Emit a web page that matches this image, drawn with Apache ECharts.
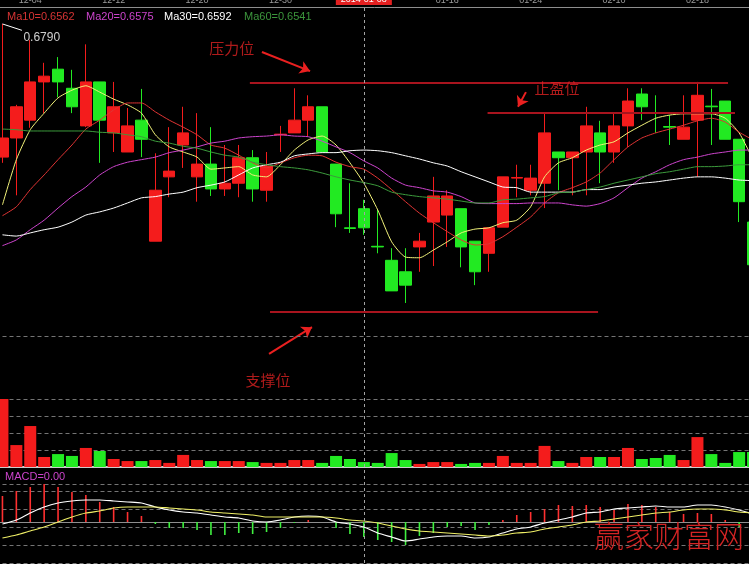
<!DOCTYPE html>
<html>
<head>
<meta charset="utf-8">
<script src="https://cdn.jsdelivr.net/npm/echarts@6/dist/echarts.min.js"></script>
<style>
  html, body { margin: 0; padding: 0; background: #000; }
  #main { width: 749px; height: 564px; }
</style>
</head>
<body>
<div id="main"></div>
<script>
// ---- trading days ----
const dates = ['2013-12-02','2013-12-03','2013-12-04','2013-12-05','2013-12-06','2013-12-09','2013-12-10','2013-12-11','2013-12-12','2013-12-13',
  '2013-12-16','2013-12-17','2013-12-18','2013-12-19','2013-12-20','2013-12-23','2013-12-24','2013-12-25','2013-12-26','2013-12-27',
  '2013-12-30','2013-12-31','2014-01-02','2014-01-03','2014-01-06','2014-01-07','2014-01-08','2014-01-09','2014-01-10','2014-01-13',
  '2014-01-14','2014-01-15','2014-01-16','2014-01-17','2014-01-20','2014-01-21','2014-01-22','2014-01-23','2014-01-24','2014-01-27',
  '2014-01-28','2014-01-29','2014-01-30','2014-02-07','2014-02-10','2014-02-11','2014-02-12','2014-02-13','2014-02-14','2014-02-17',
  '2014-02-18','2014-02-19','2014-02-20','2014-02-21','2014-02-24'];

// ---- daily prices ----
const opens = [0.6581,0.6611,0.6639,0.6699,0.6719,0.6689,0.6630,0.6699,0.6619,0.6589,
  0.6639,0.6449,0.6550,0.6600,0.6550,0.6570,0.6531,0.6540,0.6580,0.6529,
  0.6616,0.6619,0.6639,0.6660,0.6570,0.6470,0.6500,0.6441,0.6419,0.6401,
  0.6440,0.6479,0.6490,0.6500,0.6449,0.6430,0.6471,0.6548,0.6529,0.6540,
  0.6589,0.6580,0.6589,0.6619,0.6589,0.6630,0.6680,0.6651,0.6629,0.6609,
  0.6639,0.6661,0.6669,0.6609,0.6479];
const closes = [0.6611,0.6660,0.6699,0.6708,0.6699,0.6660,0.6699,0.6639,0.6660,0.6630,
  0.6609,0.6529,0.6559,0.6619,0.6570,0.6531,0.6540,0.6580,0.6531,0.6567,
  0.6617,0.6639,0.6660,0.6589,0.6492,0.6469,0.6470,0.6440,0.6371,0.6380,
  0.6449,0.6520,0.6520,0.6440,0.6401,0.6470,0.6550,0.6549,0.6548,0.6619,
  0.6580,0.6589,0.6630,0.6589,0.6630,0.6669,0.6660,0.6650,0.6628,0.6628,
  0.6678,0.6660,0.6609,0.6511,0.6412];
const lows = [0.6572,0.6521,0.6627,0.6650,0.6675,0.6650,0.6628,0.6572,0.6589,0.6589,
  0.6581,0.6449,0.6518,0.6564,0.6511,0.6520,0.6520,0.6518,0.6511,0.6511,
  0.6589,0.6619,0.6613,0.6589,0.6471,0.6462,0.6459,0.6430,0.6371,0.6352,
  0.6401,0.6410,0.6440,0.6408,0.6380,0.6401,0.6471,0.6518,0.6521,0.6501,
  0.6529,0.6521,0.6521,0.6540,0.6572,0.6597,0.6639,0.6619,0.6600,0.6609,
  0.6550,0.6600,0.6609,0.6479,0.6404];
const highs = [0.6790,0.6663,0.6765,0.6729,0.6738,0.6718,0.6758,0.6699,0.6699,0.6658,
  0.6688,0.6587,0.6628,0.6660,0.6650,0.6628,0.6600,0.6600,0.6592,0.6589,
  0.6630,0.6689,0.6678,0.6660,0.6570,0.6540,0.6514,0.6498,0.6438,0.6438,
  0.6462,0.6550,0.6529,0.6500,0.6449,0.6470,0.6550,0.6569,0.6569,0.6650,
  0.6589,0.6589,0.6660,0.6638,0.6649,0.6689,0.6689,0.6678,0.6647,0.6678,
  0.6699,0.6688,0.6669,0.6609,0.6479];

// ---- moving averages ----
const ma5 = [0.6506,0.6577,0.6624,0.6650,0.6674,0.6686,0.6693,0.6683,0.6672,0.6663,
  0.6650,0.6616,0.6597,0.6589,0.6581,0.6562,0.6564,0.6566,0.6553,0.6550,
  0.6569,0.6592,0.6608,0.6614,0.6600,0.6572,0.6540,0.6498,0.6448,0.6424,
  0.6423,0.6435,0.6448,0.6462,0.6468,0.6470,0.6478,0.6482,0.6503,0.6550,
  0.6572,0.6580,0.6592,0.6600,0.6605,0.6619,0.6631,0.6642,0.6647,0.6649,
  0.6649,0.6649,0.6642,0.6619,0.6577];
const ma10 = [0.6489,0.6503,0.6530,0.6553,0.6577,0.6600,0.6625,0.6639,0.6655,0.6666,
  0.6666,0.6652,0.6639,0.6628,0.6616,0.6600,0.6595,0.6584,0.6572,0.6564,
  0.6572,0.6580,0.6584,0.6583,0.6573,0.6566,0.6562,0.6548,0.6530,0.6511,
  0.6493,0.6478,0.6464,0.6451,0.6443,0.6445,0.6456,0.6471,0.6487,0.6509,
  0.6525,0.6533,0.6542,0.6556,0.6577,0.6597,0.6611,0.6619,0.6625,0.6631,
  0.6638,0.6642,0.6636,0.6620,0.6608];
const ma20 = [0.6442,0.6451,0.6467,0.6482,0.6501,0.6519,0.6534,0.6553,0.6566,0.6573,
  0.6577,0.6581,0.6588,0.6592,0.6597,0.6603,0.6606,0.6611,0.6613,0.6614,
  0.6616,0.6614,0.6613,0.6606,0.6597,0.6588,0.6575,0.6564,0.6548,0.6537,
  0.6533,0.6528,0.6526,0.6519,0.6509,0.6508,0.6508,0.6508,0.6509,0.6509,
  0.6509,0.6506,0.6504,0.6508,0.6517,0.6533,0.6548,0.6558,0.6569,0.6577,
  0.6581,0.6586,0.6589,0.6592,0.6592];
const ma30 = [0.6459,0.6457,0.6462,0.6467,0.6471,0.6479,0.6490,0.6495,0.6501,0.6509,
  0.6517,0.6519,0.6523,0.6526,0.6533,0.6537,0.6542,0.6553,0.6564,0.6569,
  0.6573,0.6583,0.6586,0.6588,0.6588,0.6591,0.6592,0.6591,0.6588,0.6583,
  0.6578,0.6572,0.6567,0.6558,0.6550,0.6542,0.6534,0.6533,0.6526,0.6526,
  0.6526,0.6526,0.6530,0.6530,0.6534,0.6537,0.6540,0.6542,0.6545,0.6548,
  0.6550,0.6550,0.6548,0.6545,0.6544];
const ma60 = [0.6625,0.6624,0.6622,0.6622,0.6622,0.6622,0.6622,0.6620,0.6619,0.6616,
  0.6613,0.6606,0.6603,0.6598,0.6595,0.6589,0.6584,0.6581,0.6573,0.6569,
  0.6566,0.6564,0.6561,0.6556,0.6550,0.6545,0.6541,0.6536,0.6526,0.6522,
  0.6519,0.6517,0.6515,0.6512,0.6509,0.6509,0.6514,0.6515,0.6517,0.6519,
  0.6525,0.6526,0.6530,0.6534,0.6540,0.6545,0.6550,0.6555,0.6558,0.6562,
  0.6566,0.6566,0.6567,0.6569,0.6569];

// ---- volume ----
const volumes = [40.0,12.9,24.1,5.9,7.6,6.5,11.2,9.4,4.7,3.5,
  3.5,4.1,2.4,7.1,4.1,3.5,3.5,3.5,2.9,2.4,
  2.4,4.1,4.1,2.4,6.5,4.7,2.9,2.4,8.2,4.1,
  1.8,2.9,2.9,1.8,2.4,2.4,6.5,2.4,2.4,12.4,
  3.5,2.4,5.9,5.9,5.9,11.2,4.7,5.3,7.1,4.1,
  17.6,7.6,2.4,8.8,8.8];

// ---- MACD ----
const dif = [-0.0002,0.0002,0.0009,0.0015,0.0019,0.0021,0.0022,0.0022,0.0021,0.0020,
  0.0019,0.0015,0.0012,0.0010,0.0009,0.0007,0.0005,0.0004,0.0001,0.0000,
  0.0002,0.0005,0.0006,0.0005,0.0000,-0.0002,-0.0005,-0.0011,-0.0015,-0.0019,
  -0.0017,-0.0015,-0.0014,-0.0014,-0.0016,-0.0015,-0.0011,-0.0007,-0.0005,-0.0001,
  0.0002,0.0005,0.0009,0.0010,0.0013,0.0014,0.0015,0.0016,0.0015,0.0015,
  0.0017,0.0017,0.0015,0.0012,0.0008];
const dea = [-0.0016,-0.0013,-0.0009,-0.0005,0.0000,0.0005,0.0009,0.0011,0.0014,0.0015,
  0.0015,0.0015,0.0014,0.0013,0.0012,0.0010,0.0009,0.0008,0.0007,0.0005,
  0.0005,0.0005,0.0005,0.0005,0.0004,0.0002,0.0001,-0.0001,-0.0004,-0.0007,
  -0.0009,-0.0010,-0.0011,-0.0012,-0.0013,-0.0014,-0.0013,-0.0011,-0.0010,-0.0007,
  -0.0005,-0.0003,0.0000,0.0001,0.0003,0.0005,0.0007,0.0009,0.0010,0.0012,
  0.0013,0.0013,0.0012,0.0010,0.0009];
const macdBars = [0.0026,0.0031,0.0035,0.0038,0.0035,0.0030,0.0027,0.0020,0.0015,0.0010,
  0.0006,-0.0002,-0.0006,-0.0006,-0.0008,-0.0013,-0.0013,-0.0011,-0.0012,-0.0010,
  -0.0006,-0.0001,0.0002,0.0000,-0.0006,-0.0012,-0.0015,-0.0018,-0.0020,-0.0023,
  -0.0014,-0.0011,-0.0005,-0.0004,-0.0008,-0.0003,0.0002,0.0007,0.0010,0.0013,
  0.0017,0.0016,0.0017,0.0015,0.0012,0.0018,0.0017,0.0015,0.0010,0.0008,
  0.0009,0.0008,0.0002,-0.0005,-0.0002];

// ---- annotation levels (x in trading-day index units, y in price) ----
const resistanceLevel = { price: 0.6697, from: 17.8, to: 52.2 };
const takeProfitLevel = { price: 0.6650, from: 34.9, to: 52.7 };
const supportLevel = { price: 0.6339, from: 19.25, to: 42.85 };
const arrowPaths = [
  [[18.67, 0.6746], [22.13, 0.6716]],
  [[37.66, 0.6683], [37.09, 0.6660]],
  [[19.18, 0.6272], [22.27, 0.6314]]
];
const notes = [
  { name: '压力位', value: [16.5, 0.6752] },
  { name: '止盈位', value: [39.9, 0.6689] },
  { name: '支撑位', value: [19.1, 0.6231] }
];
const cursorIndex = 26;

// ---- colours ----
const UP = '#f41c1c', DOWN = '#22ea22';
const C_MA5 = '#f2f27a', C_MA10 = '#e03434', C_MA20 = '#cc44cc', C_MA30 = '#ffffff', C_MA60 = '#3c9a3c';
const NUM_FONT = '"Liberation Sans", Arial, sans-serif';
const CJK_FONT = '"Noto Sans CJK SC", sans-serif';

const candleData = dates.map((d, i) => [opens[i], closes[i], lows[i], highs[i]]);
const volumeData = volumes.map((v, i) => ({
  value: v, itemStyle: { color: closes[i] > opens[i] ? UP : DOWN }
}));
const macdData = macdBars.map(v => ({ value: v, itemStyle: { color: v >= 0 ? '#ff3030' : '#40f040' } }));

// highest high of the view, marked with a short pointer
let maxIdx = 0;
highs.forEach((h, i) => { if (h > highs[maxIdx]) maxIdx = i; });
const maxHigh = highs[maxIdx];
const pointerEnd = [maxIdx + 1.4, maxHigh - 0.0010];

const gridBase = { left: -4.5, width: 764.5, containLabel: false, outerBoundsMode: 'none' };
const hiddenAxisParts = { axisLine: { show: false }, axisTick: { show: false }, axisLabel: { show: false } };
const dashed = { lineStyle: { color: '#747474', type: [4, 3], width: 1 } };

const chart = echarts.init(document.getElementById('main'), null, { renderer: 'canvas' });

chart.setOption({
  backgroundColor: '#000',
  animation: false,
  grid: [
    Object.assign({ top: 7, height: 389 }, gridBase),
    Object.assign({ top: 399, height: 68 }, gridBase),
    Object.assign({ top: 484, height: 79 }, gridBase)
  ],
  xAxis: [
    {
      type: 'category', gridIndex: 0, data: dates, position: 'top', boundaryGap: true,
      axisLine: { lineStyle: { color: '#8e8e8e', width: 1 } },
      axisTick: { show: false },
      splitLine: { show: false },
      axisLabel: {
        margin: 2, fontSize: 9, color: '#9c9c9c', fontFamily: NUM_FONT,
        interval: (index) => (index - 2) % 6 === 0,
        formatter: (value, index) => index === cursorIndex ? '{hl|' + value + '}' : value.slice(5),
        rich: { hl: { backgroundColor: '#e42020', color: '#fff', fontSize: 9, fontFamily: NUM_FONT, padding: [2, 5, 1, 5] } }
      }
    },
    { type: 'value', gridIndex: 0, min: -0.5, max: dates.length - 0.5, show: false },
    {
      type: 'category', gridIndex: 1, data: dates, boundaryGap: true,
      axisLine: { lineStyle: { color: '#cccccc', width: 2 } },
      axisTick: { show: false }, axisLabel: { show: false }, splitLine: { show: false }
    },
    {
      type: 'category', gridIndex: 2, data: dates, boundaryGap: true, position: 'top',
      axisLine: { lineStyle: { color: '#8e8e8e', width: 1 } },
      axisTick: { show: false }, axisLabel: { show: false }, splitLine: { show: false }
    }
  ],
  yAxis: [
    { type: 'value', gridIndex: 0, min: 0.6206, max: 0.68166, splitLine: { show: false }, ...hiddenAxisParts },
    { type: 'value', gridIndex: 1, min: 0, max: 40, interval: 10, splitLine: dashed, ...hiddenAxisParts },
    { type: 'value', gridIndex: 2, min: -0.0041, max: 0.0038, interval: 0.0018, splitLine: dashed, ...hiddenAxisParts }
  ],
  series: [
    {
      name: 'K', type: 'candlestick', xAxisIndex: 0, yAxisIndex: 0, z: 2,
      data: candleData, barWidth: 12,
      itemStyle: { color: UP, color0: DOWN, borderColor: UP, borderColor0: DOWN, borderWidth: 1 },
      markLine: {
        silent: true, symbol: ['none', 'none'], label: { show: false },
        lineStyle: { color: '#747474', type: [4, 3], width: 1 },
        data: [{ yAxis: 0.6303 }]
      }
    },
    { name: 'MA5', type: 'line', data: ma5, showSymbol: false, smooth: 0.2, z: 3, lineStyle: { color: C_MA5, width: 1 } },
    { name: 'MA10', type: 'line', data: ma10, showSymbol: false, smooth: 0.2, z: 3, lineStyle: { color: C_MA10, width: 1 } },
    { name: 'MA20', type: 'line', data: ma20, showSymbol: false, smooth: 0.2, z: 3, lineStyle: { color: C_MA20, width: 1 } },
    { name: 'MA30', type: 'line', data: ma30, showSymbol: false, smooth: 0.2, z: 3, lineStyle: { color: C_MA30, width: 1 } },
    { name: 'MA60', type: 'line', data: ma60, showSymbol: false, smooth: 0.2, z: 3, lineStyle: { color: C_MA60, width: 1 } },
    {
      name: 'levels', type: 'lines', coordinateSystem: 'cartesian2d', xAxisIndex: 1, yAxisIndex: 0, z: 4,
      symbol: ['none', 'none'], silent: true,
      lineStyle: { color: '#a8141e', width: 2, opacity: 1 },
      data: [resistanceLevel, takeProfitLevel, supportLevel].map(l => ({ coords: [[l.from, l.price], [l.to, l.price]] }))
    },
    {
      name: 'arrows', type: 'lines', coordinateSystem: 'cartesian2d', xAxisIndex: 1, yAxisIndex: 0, z: 4,
      symbol: ['none', 'arrow'], symbolSize: 10, silent: true,
      lineStyle: { color: '#ea2020', width: 2, opacity: 1 },
      data: arrowPaths.map(p => ({ coords: p }))
    },
    {
      name: 'pointer', type: 'lines', coordinateSystem: 'cartesian2d', xAxisIndex: 1, yAxisIndex: 0, z: 4,
      symbol: ['none', 'none'], silent: true,
      lineStyle: { color: '#ffffff', width: 1, opacity: 1 },
      data: [{ coords: [[maxIdx, maxHigh], pointerEnd] }]
    },
    {
      name: 'notes', type: 'scatter', xAxisIndex: 1, yAxisIndex: 0, z: 5, silent: true,
      symbolSize: 1, itemStyle: { color: 'rgba(0,0,0,0)' },
      label: { show: true, position: 'inside', formatter: '{b}', color: '#dc2222', fontSize: 15, fontFamily: CJK_FONT },
      data: notes
    },
    {
      name: 'maxLabel', type: 'scatter', xAxisIndex: 1, yAxisIndex: 0, z: 5, silent: true,
      symbolSize: 1, itemStyle: { color: 'rgba(0,0,0,0)' },
      label: {
        show: true, position: 'right', distance: 1, offset: [0, 7],
        formatter: () => maxHigh.toFixed(4), color: '#ffffff', fontSize: 12, fontFamily: NUM_FONT
      },
      data: [pointerEnd]
    },
    { name: 'VOL', type: 'bar', xAxisIndex: 2, yAxisIndex: 1, data: volumeData, barWidth: 12 },
    { name: 'MACD', type: 'bar', xAxisIndex: 3, yAxisIndex: 2, data: macdData, barWidth: 1.6, z: 2 },
    { name: 'DIF', type: 'line', xAxisIndex: 3, yAxisIndex: 2, data: dif, showSymbol: false, smooth: 0.2, z: 3, lineStyle: { color: '#ffffff', width: 1.2 } },
    { name: 'DEA', type: 'line', xAxisIndex: 3, yAxisIndex: 2, data: dea, showSymbol: false, smooth: 0.2, z: 3, lineStyle: { color: '#eeee66', width: 1.2 } }
  ]
});

// readouts for the highlighted day, cursor line and site mark
const cursorX = chart.convertToPixel({ xAxisIndex: 0 }, dates[cursorIndex]);
const legendItems = [
  { label: 'Ma10', arr: ma10, color: '#d63434', x: 7 },
  { label: 'Ma20', arr: ma20, color: C_MA20, x: 86 },
  { label: 'Ma30', arr: ma30, color: C_MA30, x: 164 },
  { label: 'Ma60', arr: ma60, color: '#3c963c', x: 244 }
];
const macdText = 'MACD=' + (Math.round(macdBars[cursorIndex] * 100) / 100).toFixed(2);

chart.setOption({
  graphic: [
    ...legendItems.map(it => ({
      type: 'text', left: it.x, top: 11, silent: true,
      style: { text: it.label + '=' + it.arr[cursorIndex].toFixed(4), fill: it.color, fontSize: 11, fontFamily: NUM_FONT }
    })),
    {
      type: 'text', left: 5, top: 471, silent: true,
      style: { text: macdText, fill: '#cc44cc', fontSize: 11, fontFamily: NUM_FONT }
    },
    {
      type: 'line', silent: true, z: 10,
      shape: { x1: Math.round(cursorX) + 0.5, y1: 8, x2: Math.round(cursorX) + 0.5, y2: 564 },
      style: { stroke: '#a4a4a4', lineWidth: 1, lineDash: [3, 3] }
    },
    {
      type: 'text', left: 594, top: 521, silent: true, z: 20,
      style: { text: '赢家财富网', fill: '#d42424', fontSize: 30, fontWeight: 300, fontFamily: CJK_FONT }
    }
  ]
});
</script>
</body>
</html>
